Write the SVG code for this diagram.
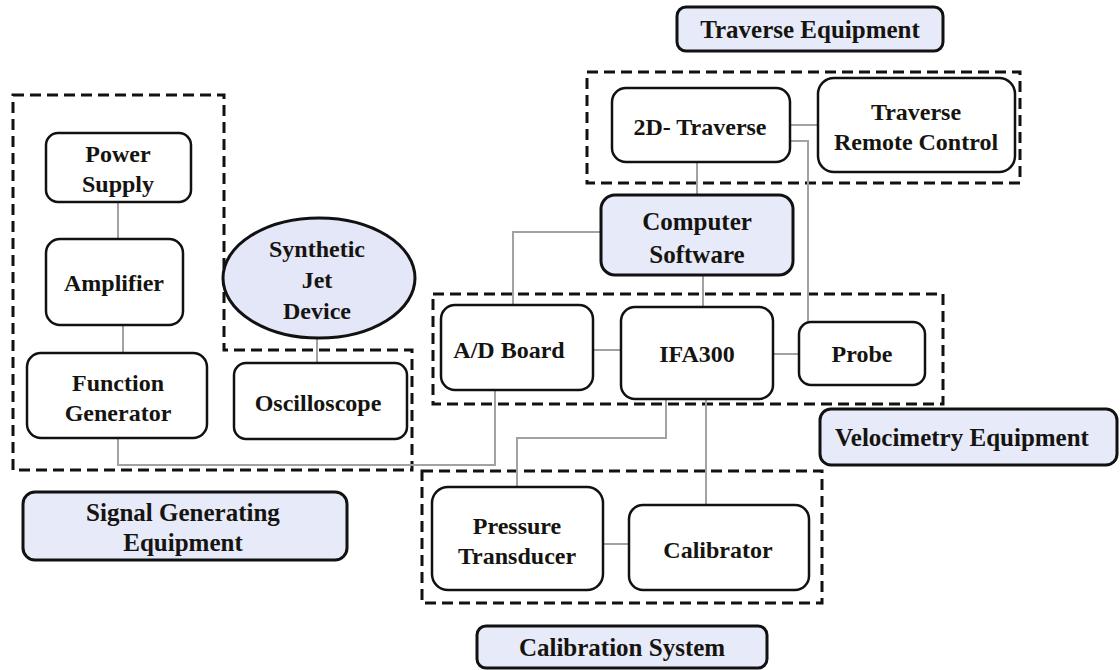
<svg xmlns="http://www.w3.org/2000/svg" width="1120" height="670" viewBox="0 0 1120 670">
<style>
.n{fill:#fff;stroke:#111;stroke-width:2.5}
.b{fill:#e7eaf9;stroke:#111;stroke-width:3}
.d{fill:none;stroke:#111;stroke-width:3;stroke-dasharray:11 6}
.c{fill:none;stroke:#a59fa6;stroke-width:2}
text{font-family:"Liberation Serif","Times New Roman",serif;font-weight:bold;font-size:24px;fill:#161410;text-anchor:middle}
.l{font-size:25px}
</style>
<rect width="1120" height="670" fill="#fff"/>
<g id="groups">
<path class="d" d="M13,95 H224 V350 H412 V470 H13 Z"/>
<rect class="d" x="587" y="72" width="433" height="111"/>
<rect class="d" x="433" y="294" width="510" height="110"/>
<rect class="d" x="422" y="471" width="400" height="132"/>
</g>
<g id="connectors">
<line class="c" x1="118" y1="202" x2="118" y2="239"/>
<line class="c" x1="123" y1="325" x2="123" y2="353"/>
<line class="c" x1="317" y1="338" x2="317" y2="363"/>
<polyline class="c" points="118,438 118,465 495,465 495,390"/>
<line class="c" x1="790" y1="125" x2="818" y2="125"/>
<polyline class="c" points="790,141 808,141 808,322"/>
<line class="c" x1="697" y1="162" x2="697" y2="195"/>
<polyline class="c" points="601,232 513,232 513,305"/>
<line class="c" x1="703" y1="275" x2="703" y2="307"/>
<line class="c" x1="593" y1="350" x2="621" y2="350"/>
<line class="c" x1="773" y1="354" x2="799" y2="354"/>
<polyline class="c" points="666,399 666,438 517,438 517,487"/>
<line class="c" x1="706" y1="399" x2="706" y2="505"/>
<line class="c" x1="603" y1="544" x2="629" y2="544"/>
</g>
<g id="power-supply"><rect class="n" x="46" y="133" width="145" height="69" rx="12"/><text x="118" y="162">Power</text><text x="118" y="192">Supply</text></g>
<g id="amplifier"><rect class="n" x="46" y="239" width="137" height="86" rx="14"/><text x="114" y="291">Amplifier</text></g>
<g id="function-generator"><rect class="n" x="27" y="353" width="180" height="85" rx="14"/><text x="118" y="391">Function</text><text x="118" y="421">Generator</text></g>
<g id="synthetic-jet"><ellipse cx="319" cy="278" rx="96" ry="60" fill="#e3e7f7" stroke="#111" stroke-width="3"/><text x="317" y="257">Synthetic</text><text x="317" y="288">Jet</text><text x="317" y="319">Device</text></g>
<g id="oscilloscope"><rect class="n" x="234" y="363" width="173" height="76" rx="12"/><text x="318" y="411">Oscilloscope</text></g>
<g id="signal-label"><rect class="b" x="23" y="492" width="324" height="68" rx="12"/><text class="l" x="183" y="521">Signal Generating</text><text class="l" x="183" y="551">Equipment</text></g>
<g id="traverse-label"><rect class="b" x="677" y="7" width="266" height="44" rx="9"/><text class="l" x="810" y="38">Traverse Equipment</text></g>
<g id="traverse-2d"><rect class="n" x="612" y="88" width="178" height="74" rx="14"/><text x="700" y="135">2D- Traverse</text></g>
<g id="traverse-remote"><rect class="n" x="818" y="78" width="197" height="94" rx="16"/><text x="916" y="120">Traverse</text><text x="916" y="150">Remote Control</text></g>
<g id="computer-software"><rect class="b" x="601" y="195" width="192" height="80" rx="14"/><text class="l" x="697" y="230">Computer</text><text class="l" x="697" y="263">Software</text></g>
<g id="ad-board"><rect class="n" x="441" y="305" width="152" height="85" rx="14"/><text x="509" y="358">A/D Board</text></g>
<g id="ifa300"><rect class="n" x="621" y="307" width="152" height="92" rx="14"/><text x="697" y="362">IFA300</text></g>
<g id="probe"><rect class="n" x="799" y="322" width="126" height="63" rx="12"/><text x="862" y="362">Probe</text></g>
<g id="velocimetry-label"><rect class="b" x="820" y="409" width="297" height="56" rx="11"/><text class="l" x="962" y="446">Velocimetry Equipment</text></g>
<g id="pressure-transducer"><rect class="n" x="432" y="487" width="171" height="103" rx="16"/><text x="517" y="534">Pressure</text><text x="517" y="564">Transducer</text></g>
<g id="calibrator"><rect class="n" x="629" y="505" width="180" height="85" rx="14"/><text x="718" y="558">Calibrator</text></g>
<g id="calibration-label"><rect class="b" x="477" y="626" width="290" height="42" rx="9"/><text class="l" x="622" y="656">Calibration System</text></g>
</svg>
